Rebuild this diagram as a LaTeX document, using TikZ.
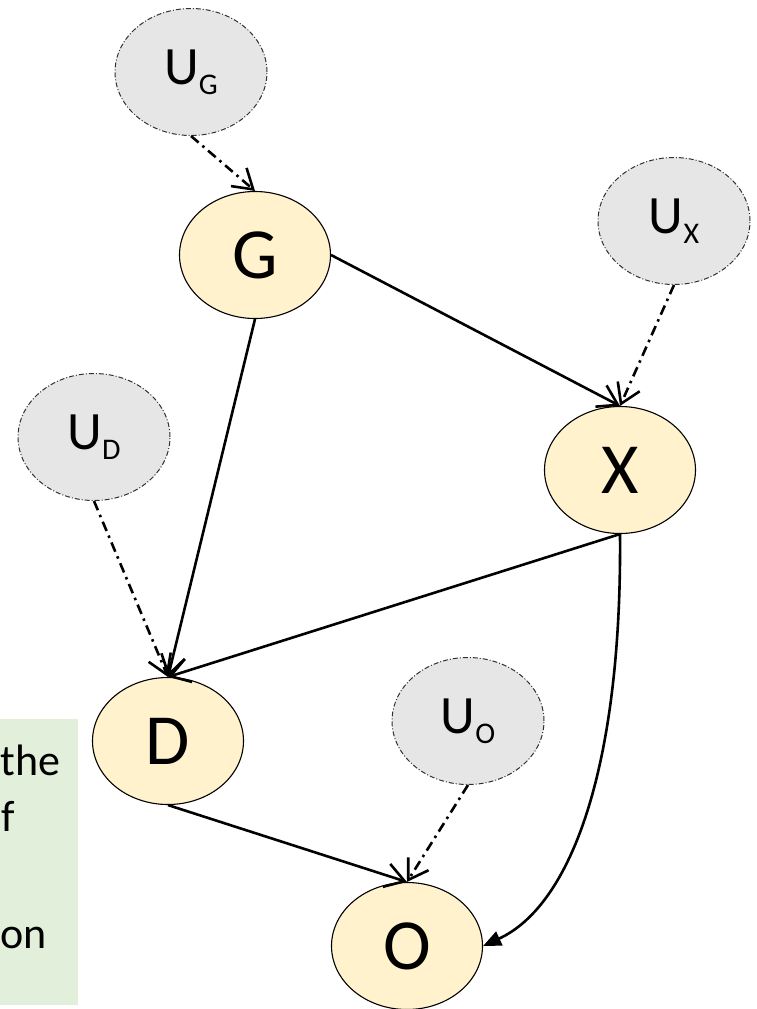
\documentclass[tikz,border=0pt]{standalone}
\usepackage{fontspec}
\setmainfont{Carlito}
\usetikzlibrary{arrows.meta,shapes.geometric}
\definecolor{nodeyellow}{HTML}{FFF2CC}
\definecolor{nodegray}{HTML}{E6E6E6}
\definecolor{notegreen}{HTML}{E2EFDA}
\definecolor{ubord}{HTML}{303030}
\tikzset{
  obs/.style={ellipse, draw=black, line width=1.1pt, fill=nodeyellow, inner sep=0pt,
    minimum width=151pt, minimum height=127pt, font=\fontsize{72}{80}\selectfont},
  unobs/.style={ellipse, draw=ubord, line width=1pt, fill=nodegray, inner sep=0pt,
    dash pattern=on 5pt off 2pt on 1pt off 2pt,
    minimum width=152pt, minimum height=127pt, font=\fontsize{54}{60}\selectfont},
  edge/.style={line width=2.6pt, -{Straight Barb[length=19pt,width=24pt]}},
  uedge/.style={line width=2.6pt, dash pattern=on 10pt off 5pt on 2.5pt off 5pt,
    -{Straight Barb[length=19pt,width=24pt]}},
  curvedge/.style={line width=2.6pt, -{Triangle[length=18pt,width=15pt]}},
  notebox/.style={fill=notegreen, draw=none, inner sep=0pt, anchor=north west,
    minimum width=78pt, minimum height=286pt},
  notetext/.style={anchor=base west, inner sep=0pt, font=\fontsize{44}{54}\selectfont}
}
\newcommand{\usub}[1]{U{\fontsize{30}{32}\selectfont\raisebox{-10pt}{#1}}}
\begin{document}
\begin{tikzpicture}[x=1pt,y=-1pt]
\useasboundingbox (0,0) rectangle (757,1009);
% note box (cut off at the left)
\node[notebox] (note) at (0,719) {};
\node[notetext] (t1) at (0.5,775) {the};
\node[notetext] (t2) at (1,831) {f};
\node[notetext] (t3) at (0.5,948) {on};
% nodes
\node[unobs] (UG) at (191,72) {\usub{G}};
\node[obs] (G) at (255,255) {G};
\node[unobs] (UX) at (674,221) {\usub{X}};
\node[obs] (X) at (620,470) {X};
\node[unobs] (UD) at (94,437) {\usub{D}};
\node[obs] (D) at (168,741) {D};
\node[unobs] (UO) at (468,721) {\usub{O}};
\node[obs] (O) at (407,946) {O};
% edges
\draw[uedge] (UG.south) -- (G.north);
\draw[uedge] (UX.south) -- (X.north);
\draw[uedge] (UD.south) -- (D.north);
\draw[uedge] (UO.south) -- (O.north);
\draw[edge] (G.east) -- (X.north);
\draw[edge] (G.south) -- (D.north);
\draw[edge] (X.south) -- (D.north);
\draw[edge] (D.south) -- (O.north);
\draw[curvedge] (X.south) .. controls (622,765) and (572,905) .. (O.east);
\end{tikzpicture}
\end{document}
